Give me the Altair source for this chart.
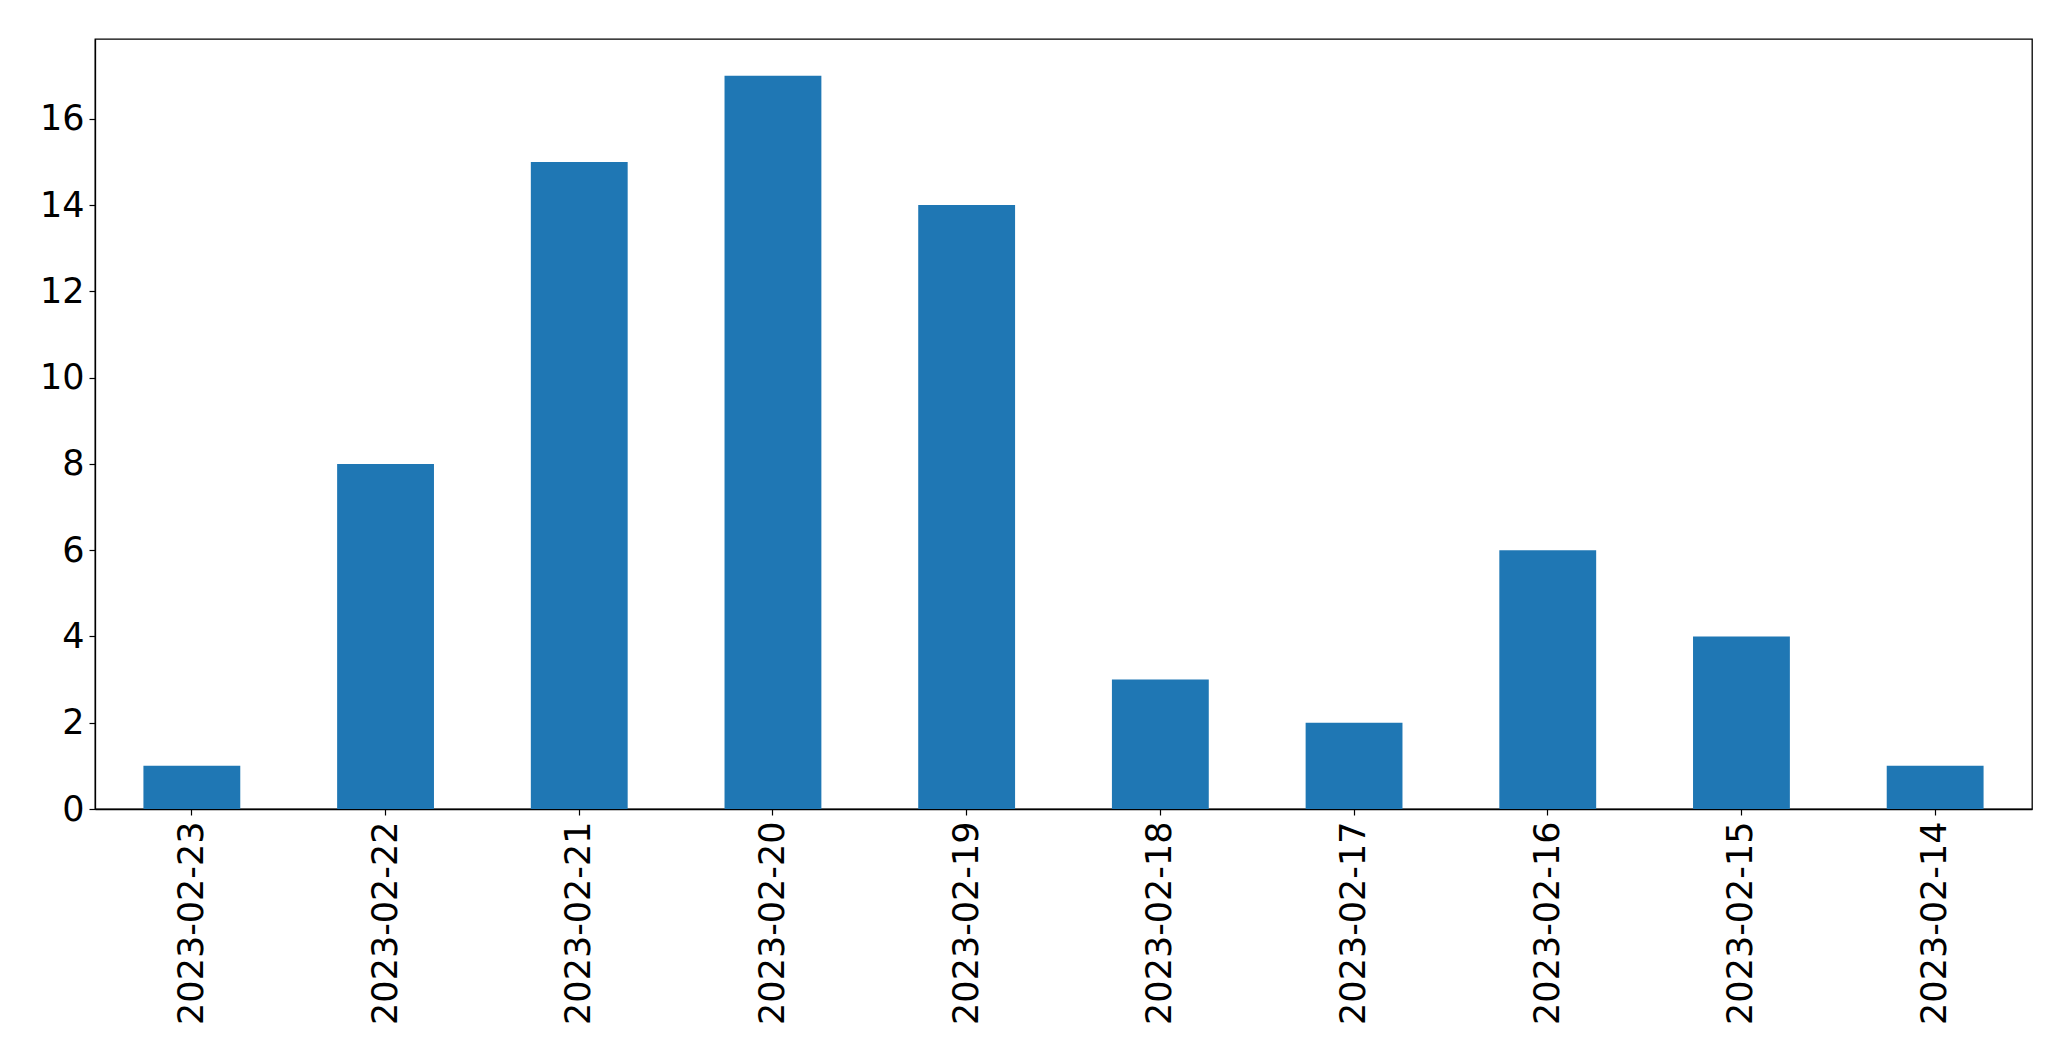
import altair as alt
import pandas as pd

dates = ["2023-02-23", "2023-02-22", "2023-02-21", "2023-02-20", "2023-02-19",
         "2023-02-18", "2023-02-17", "2023-02-16", "2023-02-15", "2023-02-14"]
counts = [1, 8, 15, 17, 14, 3, 2, 6, 4, 1]
y_ticks = [0, 2, 4, 6, 8, 10, 12, 14, 16]

df = pd.DataFrame({"date": dates, "count": counts})

font = "DejaVu Sans"

chart = alt.Chart(df).mark_bar(color="#1f77b4").encode(
    x=alt.X("date:N", sort=dates, title=None,
            scale=alt.Scale(paddingInner=0.5, paddingOuter=0.25),
            axis=alt.Axis(labelAngle=270, labelFont=font, labelFontSize=35,
                          labelColor="black", tickColor="black", tickSize=6,
                          tickWidth=1.2, domainColor="black", domainWidth=1.3,
                          labelPadding=6, grid=False, labelBaseline="middle",
                          labelAlign="right", labelLimit=0)),
    y=alt.Y("count:Q", title=None,
            scale=alt.Scale(domain=[0, 17.85], nice=False, zero=True),
            axis=alt.Axis(values=y_ticks, labelFont=font, labelFontSize=35,
                          labelColor="black", tickColor="black", tickSize=6,
                          tickWidth=1.2, domainColor="black", domainWidth=1.3,
                          labelPadding=5, grid=False, labelLimit=0)),
).properties(
    width=1937, height=770,
    autosize=alt.AutoSizeParams(type="none"),
    padding={"left": 87, "top": 31, "right": 30, "bottom": 240},
).configure(
    background="white",
    view=alt.ViewConfig(stroke="black", strokeWidth=1.3),
)

chart.save("out.html", embed_options={"renderer": "svg", "actions": False})
